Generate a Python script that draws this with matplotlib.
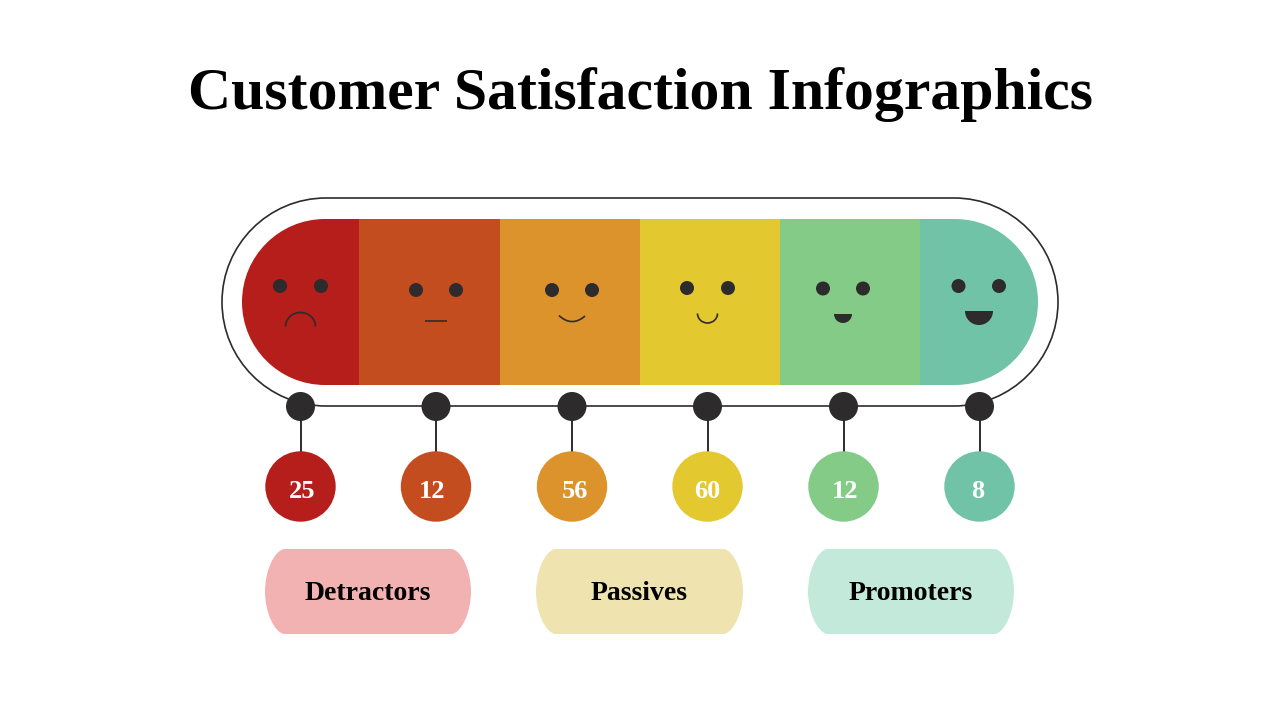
import matplotlib
matplotlib.use('Agg')
import matplotlib.pyplot as plt
from matplotlib.patches import Circle, Rectangle, PathPatch, Arc, Wedge
from matplotlib.path import Path

plt.rcParams['font.family'] = ['Liberation Serif', 'DejaVu Serif']

title = "Customer Satisfaction Infographics"
scores = [25, 12, 56, 60, 12, 8]
score_colors = ['#B51E1A', '#C34D1F', '#DC932C', '#E3C82F', '#83CB86', '#71C3A8']
groups = ['Detractors', 'Passives', 'Promoters']
group_colors = ['#F3B2B2', '#EFE3B0', '#C3E9DB']

dark = '#2D2B2C'


def stadium(x0, x1, y0, y1):
    # pill outline with real half circle ends
    r = (y1 - y0) / 2
    k = 0.5523 * r
    verts = [(x0 + r, y0), (x1 - r, y0),
             (x1 - r + k, y0), (x1, y0 + r - k), (x1, y0 + r),
             (x1, y1 - r + k), (x1 - r + k, y1), (x1 - r, y1),
             (x0 + r, y1),
             (x0 + r - k, y1), (x0, y1 - r + k), (x0, y0 + r),
             (x0, y0 + r - k), (x0 + r - k, y0), (x0 + r, y0)]
    codes = [Path.MOVETO, Path.LINETO,
             Path.CURVE4, Path.CURVE4, Path.CURVE4,
             Path.CURVE4, Path.CURVE4, Path.CURVE4,
             Path.LINETO,
             Path.CURVE4, Path.CURVE4, Path.CURVE4,
             Path.CURVE4, Path.CURVE4, Path.CURVE4]
    return Path(verts, codes)


# everything is laid out in pixels of the 1280x720 slide
fig = plt.figure(figsize=(12.8, 7.2), dpi=100)
ax = fig.add_axes([0, 0, 1, 1])
ax.set_xlim(0, 1280)
ax.set_ylim(720, 0)
ax.axis('off')

ax.text(640, 95, title, ha='center', va='center', fontsize=43, fontweight='bold', color='black')

# outer outline
ax.add_patch(PathPatch(stadium(222, 1058, 198, 406), fc='none', ec=dark, lw=1.2))

# coloured band, clipped to a pill
edges = [242, 359, 500, 640, 780, 920, 1038]
clip = PathPatch(stadium(242, 1038, 219, 385), fc='none', ec='none')
ax.add_patch(clip)
for i, c in enumerate(score_colors):
    r = Rectangle((edges[i], 219), edges[i + 1] - edges[i], 166, fc=c, ec='none')
    ax.add_patch(r)
    r.set_clip_path(clip)

# eyes
eyes = [(280, 286), (321, 286), (416, 290), (456, 290), (552, 290), (592, 290),
        (687, 288), (728, 288), (823, 288.5), (863, 288.5), (958.5, 286), (999, 286)]
for x, y in eyes:
    ax.add_patch(Circle((x, y), 7, fc=dark, ec='none'))

# mouths
ax.add_patch(Arc((300.5, 326.5), 30, 28, theta1=180, theta2=360, ec=dark, lw=1.2))
ax.plot([425, 447], [321, 321], color=dark, lw=1.2, solid_capstyle='butt')
ax.add_patch(PathPatch(Path([(559, 315.5), (568, 324), (577, 323), (585, 316)],
                            [Path.MOVETO, Path.CURVE4, Path.CURVE4, Path.CURVE4]),
                       fc='none', ec=dark, lw=1.2))
ax.add_patch(Arc((707.5, 313.5), 20, 19, theta1=0, theta2=180, ec=dark, lw=1.2))
ax.add_patch(Wedge((843, 314), 9, 0, 180, fc=dark, ec='none'))
ax.add_patch(Wedge((979, 311), 14, 0, 180, fc=dark, ec='none'))

# stems, dots and value circles
dots_x = [300.5, 436, 572, 707.5, 843.5, 979.5]
text_x = [302, 432, 575, 707, 845, 978]
for x, tx, v, c in zip(dots_x, text_x, scores, score_colors):
    ax.plot([x, x], [406, 452], color=dark, lw=1.4, solid_capstyle='butt', zorder=2)
    ax.add_patch(Circle((x, 406.5), 14.5, fc=dark, ec='none', zorder=3))
    ax.add_patch(Circle((x, 486.5), 35.2, fc=c, ec='none', zorder=3))
    ax.text(tx, 492, str(v), ha='center', va='center', fontsize=19, fontweight='bold',
            color='white', zorder=4)

# group labels
pill_x = [(265, 471), (536, 743), (808, 1014)]
text_gx = [368, 639, 911]
for (x0, x1), tx, g, c in zip(pill_x, text_gx, groups, group_colors):
    top, bot = 549, 634
    mid = (top + bot) / 2
    verts = [(x0 + 19, top), (x1 - 19, top),
             (x1 - 9, top + 2), (x1, top + 22), (x1, mid),
             (x1, bot - 22), (x1 - 9, bot - 2), (x1 - 19, bot),
             (x0 + 19, bot),
             (x0 + 9, bot - 2), (x0, bot - 22), (x0, mid),
             (x0, top + 22), (x0 + 9, top + 2), (x0 + 19, top)]
    codes = [Path.MOVETO, Path.LINETO,
             Path.CURVE4, Path.CURVE4, Path.CURVE4,
             Path.CURVE4, Path.CURVE4, Path.CURVE4,
             Path.LINETO,
             Path.CURVE4, Path.CURVE4, Path.CURVE4,
             Path.CURVE4, Path.CURVE4, Path.CURVE4]
    ax.add_patch(PathPatch(Path(verts, codes), fc=c, ec='none'))
    ax.text(tx, 593, g, ha='center', va='center', fontsize=20, fontweight='bold', color='black')

fig.savefig('out.png', dpi=100)
